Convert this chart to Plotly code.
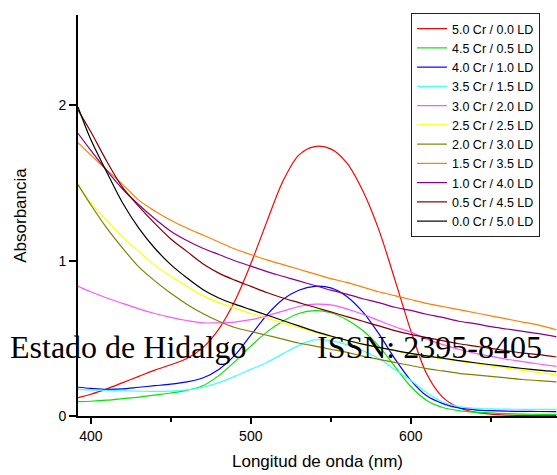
import plotly.graph_objects as go

wavelength = [392, 400, 410, 420, 430, 440, 450, 460, 470, 480, 490, 500, 510, 520, 530, 540,
              550, 560, 570, 580, 590, 600, 610, 620, 630, 640, 650, 660, 670, 680, 691]

cr50_ld00 = [0.118, 0.14, 0.175, 0.215, 0.255, 0.295, 0.33, 0.37, 0.44, 0.56, 0.74, 0.98, 1.25, 1.51, 1.68, 1.735,
             1.72, 1.63, 1.45, 1.20, 0.88, 0.55, 0.27, 0.12, 0.055, 0.025, 0.012, 0.006, 0.004, 0.003, 0.002]
cr45_ld05 = [0.092, 0.095, 0.102, 0.112, 0.122, 0.135, 0.148, 0.165, 0.195, 0.26, 0.35, 0.45, 0.54, 0.61, 0.66, 0.678,
             0.665, 0.62, 0.55, 0.45, 0.32, 0.19, 0.10, 0.055, 0.035, 0.025, 0.02, 0.015, 0.012, 0.011, 0.01]
cr40_ld10 = [0.185, 0.178, 0.172, 0.175, 0.185, 0.195, 0.205, 0.22, 0.245, 0.30, 0.39, 0.52, 0.65, 0.75, 0.81, 0.835,
             0.825, 0.77, 0.67, 0.53, 0.37, 0.23, 0.13, 0.08, 0.052, 0.04, 0.034, 0.031, 0.03, 0.029, 0.028]
cr35_ld15 = [0.172, 0.168, 0.165, 0.162, 0.16, 0.158, 0.16, 0.168, 0.185, 0.215, 0.255, 0.30, 0.345, 0.40, 0.455, 0.49,
             0.485, 0.46, 0.42, 0.37, 0.30, 0.23, 0.15, 0.09, 0.06, 0.05, 0.046, 0.044, 0.043, 0.043, 0.043]
cr30_ld20 = [0.835, 0.80, 0.76, 0.725, 0.69, 0.66, 0.635, 0.615, 0.60, 0.60, 0.605, 0.62, 0.645, 0.675, 0.705, 0.72,
             0.715, 0.69, 0.655, 0.615, 0.575, 0.54, 0.495, 0.46, 0.43, 0.405, 0.385, 0.365, 0.35, 0.335, 0.32]
cr25_ld25 = [1.49, 1.37, 1.26, 1.15, 1.06, 0.97, 0.90, 0.835, 0.775, 0.73, 0.695, 0.66, 0.63, 0.60, 0.57, 0.54,
             0.51, 0.485, 0.46, 0.44, 0.42, 0.40, 0.383, 0.368, 0.353, 0.338, 0.323, 0.308, 0.294, 0.28, 0.265]
cr20_ld30 = [1.49, 1.36, 1.21, 1.08, 0.96, 0.87, 0.79, 0.72, 0.66, 0.61, 0.57, 0.545, 0.52, 0.495, 0.47, 0.45,
             0.43, 0.41, 0.385, 0.365, 0.345, 0.325, 0.305, 0.29, 0.275, 0.265, 0.255, 0.245, 0.235, 0.228, 0.22]
cr15_ld35 = [1.76, 1.68, 1.585, 1.49, 1.39, 1.32, 1.26, 1.21, 1.165, 1.12, 1.075, 1.04, 1.005, 0.975, 0.945, 0.915,
             0.885, 0.86, 0.83, 0.80, 0.775, 0.75, 0.725, 0.705, 0.685, 0.665, 0.645, 0.625, 0.605, 0.585, 0.555]
cr10_ld40 = [1.82, 1.71, 1.58, 1.46, 1.36, 1.27, 1.19, 1.13, 1.08, 1.04, 1.00, 0.965, 0.93, 0.90, 0.87, 0.84,
             0.81, 0.785, 0.755, 0.73, 0.70, 0.68, 0.655, 0.635, 0.61, 0.595, 0.575, 0.56, 0.545, 0.53, 0.51]
cr05_ld45 = [1.97, 1.83, 1.64, 1.47, 1.35, 1.24, 1.14, 1.06, 0.98, 0.92, 0.875, 0.835, 0.795, 0.76, 0.73, 0.70,
             0.67, 0.64, 0.61, 0.58, 0.55, 0.525, 0.505, 0.485, 0.465, 0.45, 0.435, 0.42, 0.405, 0.395, 0.38]
cr00_ld50 = [1.99, 1.78, 1.57, 1.37, 1.21, 1.08, 0.975, 0.89, 0.815, 0.76, 0.72, 0.685, 0.65, 0.615, 0.58, 0.545,
             0.515, 0.488, 0.463, 0.442, 0.422, 0.403, 0.387, 0.372, 0.357, 0.343, 0.33, 0.318, 0.306, 0.295, 0.285]

series_names = ["5.0 Cr / 0.0 LD", "4.5 Cr / 0.5 LD", "4.0 Cr / 1.0 LD", "3.5 Cr / 1.5 LD",
                "3.0 Cr / 2.0 LD", "2.5 Cr / 2.5 LD", "2.0 Cr / 3.0 LD", "1.5 Cr / 3.5 LD",
                "1.0 Cr / 4.0 LD", "0.5 Cr / 4.5 LD", "0.0 Cr / 5.0 LD"]
series_values = [cr50_ld00, cr45_ld05, cr40_ld10, cr35_ld15, cr30_ld20, cr25_ld25,
                 cr20_ld30, cr15_ld35, cr10_ld40, cr05_ld45, cr00_ld50]
series_colors = ["#FF0000", "#00E600", "#0000FF", "#40FFFF", "#FF55FF", "#FFFF00",
                 "#808000", "#FF8000", "#8B008B", "#800000", "#000000"]

x_ticks = [400, 500, 600]
y_ticks = [0, 1, 2]

fig = go.Figure()
for name, vals, col in zip(series_names, series_values, series_colors):
    fig.add_trace(go.Scatter(x=wavelength, y=vals, name=name, mode="lines",
                             line=dict(color=col, width=1.2, shape="spline", smoothing=0.9)))

L, R, T, B = 78, 0, 15, 59
W, H = 557, 475
pw, ph = W - L - R, H - T - B

def px2x(px):
    return (px - L) / pw

def py2y(py):
    return (H - B - py) / ph

fig.update_layout(
    width=W, height=H,
    margin=dict(l=L, r=R, t=T, b=B, pad=0),
    paper_bgcolor="white", plot_bgcolor="white",
    font=dict(family="Arial, Liberation Sans, sans-serif", color="black"),
    showlegend=True,
    legend=dict(x=px2x(411), y=py2y(13), xanchor="left", yanchor="top",
                bgcolor="white", bordercolor="#222222", borderwidth=1,
                font=dict(size=12.5, family="Arial, Liberation Sans, sans-serif"),
                tracegroupgap=0, itemwidth=30),
    xaxis=dict(range=[392, 691.4], tickvals=x_ticks, ticks="outside", ticklen=6, tickwidth=1.5,
               tickcolor="black", showline=True, linecolor="black", linewidth=2,
               showgrid=False, zeroline=False, tickfont=dict(size=14),
               minor=dict(tickvals=[450, 550, 650], ticks="outside", ticklen=4, tickwidth=1.5, tickcolor="black"),
               title=dict(text="Longitud de onda (nm)", font=dict(size=17), standoff=12)),
    yaxis=dict(range=[0, 2.582], tickvals=y_ticks, ticks="outside", ticklen=7, tickwidth=1.5,
               tickcolor="black", showline=True, linecolor="black", linewidth=2,
               showgrid=False, zeroline=False, tickfont=dict(size=14),
               title=dict(text="Absorbancia", font=dict(size=17), standoff=27)),
)

fig.add_annotation(text="Estado de Hidalgo", xref="paper", yref="paper",
                   x=px2x(8), y=py2y(347), xanchor="left", yanchor="middle", showarrow=False,
                   font=dict(family="Times New Roman, Liberation Serif, serif", size=32, color="black"))
fig.add_annotation(text="ISSN: 2395-8405", xref="paper", yref="paper",
                   x=px2x(315), y=py2y(347), xanchor="left", yanchor="middle", showarrow=False,
                   font=dict(family="Times New Roman, Liberation Serif, serif", size=32, color="black"))

fig.write_html("out.html")
